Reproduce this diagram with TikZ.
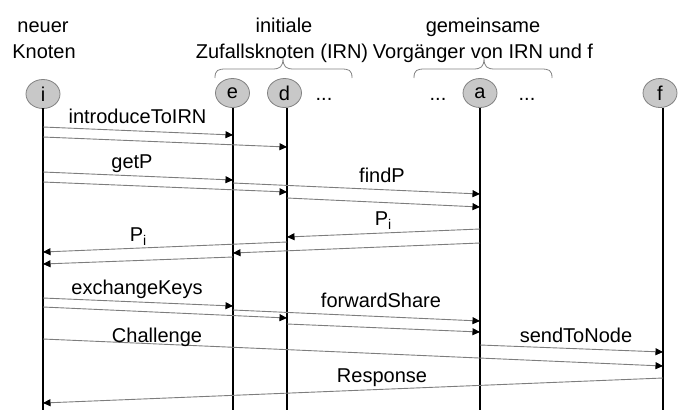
\documentclass[tikz,border=0pt]{standalone}
\usepackage{fontspec}
\setmainfont{Liberation Sans}
\usetikzlibrary{arrows.meta,shapes.geometric}
\definecolor{lifeg}{RGB}{200,200,200}
\definecolor{rimg}{RGB}{130,130,130}
\definecolor{msgg}{RGB}{125,125,125}
\newcommand{\PsubI}{P\raisebox{-0.45ex}{\fontsize{14}{14}\selectfont i}}
\begin{document}
\begin{tikzpicture}[x=1pt,y=-1pt,
  every node/.style={font=\fontsize{20}{24}\selectfont, inner sep=0pt},
  party/.style={ellipse, draw=rimg, fill=lifeg, line width=0.8pt, minimum width=34pt, minimum height=29pt},
  life/.style={line width=2.6pt, black},
  msg/.style={draw=msgg, line width=0.9pt, -{Triangle[length=7.5pt,width=7pt,fill=black,color=black]}},
  lab/.style={anchor=base},
  brace/.style={draw=rimg, line width=0.8pt}]
\useasboundingbox (0,0) rectangle (684,410);
% headings
\node[lab] (h1a) at (43,32) {neuer};
\node[lab] (h1b) at (44,58) {Knoten};
\node[lab] (h2a) at (284,32) {initiale};
\node[lab] (h2b) at (282,58) {Zufallsknoten (IRN)};
\node[lab] (h3a) at (483,32) {gemeinsame};
\node[lab] (h3b) at (483,58) {Vorgänger von IRN und f};
% braces
\path[brace] (215,78) .. controls (215,70) and (218,69) .. (226,69) -- (272,69)
  .. controls (280,69) and (283,67) .. (283,58) .. controls (283,67) and (286,69) .. (294,69)
  -- (341,69) .. controls (349,69) and (352,70) .. (352,78);
\path[brace] (414,78) .. controls (414,70) and (417,69) .. (425,69) -- (473,69)
  .. controls (481,69) and (484,67) .. (484,58) .. controls (484,67) and (487,69) .. (495,69)
  -- (541,69) .. controls (549,69) and (552,70) .. (552,78);
% parties
\node[party] (i) at (43,94) {i};
\node[party] (e) at (232.5,93) {e};
\node[party] (d) at (284.5,93) {d};
\node[party] (a) at (480,93) {a};
\node[party] (f) at (660,93) {f};
\node[lab] (dots1) at (324,100) {...};
\node[lab] (dots2) at (438,100) {...};
\node[lab] (dots3) at (527,100) {...};
% lifelines
\coordinate (iL) at (43,108);
\coordinate (eL) at (233,108);
\coordinate (dL) at (287,108);
\coordinate (aL) at (480,108);
\coordinate (fL) at (663,108);
\foreach \n in {i,e,d,a,f}{\draw[life] (\n L) -- (\n L |- 0,410);}
% messages
\draw[msg] (iL |- 0,127) -- (eL |- 0,135);
\draw[msg] (iL |- 0,137) -- (dL |- 0,147);
\draw[msg] (iL |- 0,172) -- (eL |- 0,180);
\draw[msg] (iL |- 0,182) -- (dL |- 0,192);
\draw[msg] (eL |- 0,183) -- (aL |- 0,194);
\draw[msg] (dL |- 0,198) -- (aL |- 0,207);
\draw[msg] (aL |- 0,229) -- (dL |- 0,237);
\draw[msg] (aL |- 0,243) -- (eL |- 0,253);
\draw[msg] (dL |- 0,242) -- (iL |- 0,252);
\draw[msg] (eL |- 0,257) -- (iL |- 0,264);
\draw[msg] (iL |- 0,298) -- (eL |- 0,306);
\draw[msg] (iL |- 0,307) -- (dL |- 0,318);
\draw[msg] (eL |- 0,310) -- (aL |- 0,321);
\draw[msg] (dL |- 0,324) -- (aL |- 0,332);
\draw[msg] (aL |- 0,345) -- (fL |- 0,352);
\draw[msg] (iL |- 0,339) -- (fL |- 0,366);
\draw[msg] (fL |- 0,378) -- (iL |- 0,403);
% labels
\node[lab] (l1) at (137.5,123) {introduceToIRN};
\node[lab] (l2) at (132,168) {getP};
\node[lab] (l3) at (382,182) {findP};
\node[lab] (l4) at (383,225) {\PsubI};
\node[lab] (l5) at (138,241) {\PsubI};
\node[lab] (l6) at (137,294) {exchangeKeys};
\node[lab] (l7) at (381,307) {forwardShare};
\node[lab] (l8) at (157,342) {Challenge};
\node[lab] (l9) at (576,342) {sendToNode};
\node[lab] (l10) at (382,382) {Response};
\end{tikzpicture}
\end{document}
